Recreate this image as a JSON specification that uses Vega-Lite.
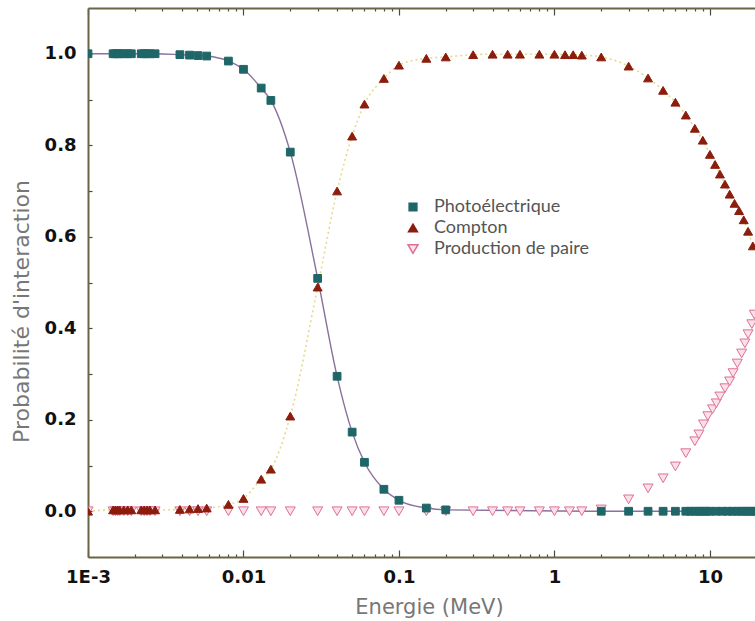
{
  "$schema": "https://vega.github.io/schema/vega-lite/v6.json",
  "width": 667,
  "height": 549,
  "autosize": "none",
  "padding": {"left": 88, "top": 8, "right": 0, "bottom": 64},
  "background": "white",
  "config": {
    "view": {"stroke": null},
    "axis": {
      "domainColor": "#6a6448",
      "domainWidth": 2,
      "tickColor": "#4a4a3a",
      "tickWidth": 1.2,
      "grid": false,
      "labelFont": "DejaVu Sans",
      "labelFontWeight": "bold",
      "labelFontSize": 18,
      "labelColor": "#111111",
      "titleFont": "DejaVu Sans",
      "titleFontWeight": "normal",
      "titleFontSize": 21,
      "titleColor": "#777777"
    },
    "legend": {
      "orient": "none", "legendX": 316, "legendY": 190,
      "labelFont": "Lato", "labelFontSize": 18, "labelColor": "#555555",
      "rowPadding": 3, "labelOffset": 12
    }
  },
  "data": {
    "values": [
      {"E": 0.001, "P": 0, "s": "Production de paire"},
      {"E": 0.00145, "P": 0, "s": "Production de paire"},
      {"E": 0.0015, "P": 0, "s": "Production de paire"},
      {"E": 0.00155, "P": 0, "s": "Production de paire"},
      {"E": 0.0016, "P": 0, "s": "Production de paire"},
      {"E": 0.0017, "P": 0, "s": "Production de paire"},
      {"E": 0.0018, "P": 0, "s": "Production de paire"},
      {"E": 0.0019, "P": 0, "s": "Production de paire"},
      {"E": 0.0022, "P": 0, "s": "Production de paire"},
      {"E": 0.0023, "P": 0, "s": "Production de paire"},
      {"E": 0.0024, "P": 0, "s": "Production de paire"},
      {"E": 0.0025, "P": 0, "s": "Production de paire"},
      {"E": 0.0027, "P": 0, "s": "Production de paire"},
      {"E": 0.0039, "P": 0, "s": "Production de paire"},
      {"E": 0.0045, "P": 0, "s": "Production de paire"},
      {"E": 0.0051, "P": 0, "s": "Production de paire"},
      {"E": 0.0058, "P": 0, "s": "Production de paire"},
      {"E": 0.008, "P": 0, "s": "Production de paire"},
      {"E": 0.01, "P": 0, "s": "Production de paire"},
      {"E": 0.013, "P": 0, "s": "Production de paire"},
      {"E": 0.015, "P": 0, "s": "Production de paire"},
      {"E": 0.02, "P": 0, "s": "Production de paire"},
      {"E": 0.03, "P": 0, "s": "Production de paire"},
      {"E": 0.04, "P": 0, "s": "Production de paire"},
      {"E": 0.05, "P": 0, "s": "Production de paire"},
      {"E": 0.06, "P": 0, "s": "Production de paire"},
      {"E": 0.08, "P": 0, "s": "Production de paire"},
      {"E": 0.1, "P": 0, "s": "Production de paire"},
      {"E": 0.15, "P": 0, "s": "Production de paire"},
      {"E": 0.2, "P": 0, "s": "Production de paire"},
      {"E": 0.3, "P": 0, "s": "Production de paire"},
      {"E": 0.4, "P": 0, "s": "Production de paire"},
      {"E": 0.5, "P": 0, "s": "Production de paire"},
      {"E": 0.6, "P": 0, "s": "Production de paire"},
      {"E": 0.8, "P": 0, "s": "Production de paire"},
      {"E": 1.0, "P": 0, "s": "Production de paire"},
      {"E": 1.25, "P": 0, "s": "Production de paire"},
      {"E": 1.5, "P": 0, "s": "Production de paire"},
      {"E": 2, "P": 0.004, "s": "Production de paire"},
      {"E": 3, "P": 0.026, "s": "Production de paire"},
      {"E": 4, "P": 0.05, "s": "Production de paire"},
      {"E": 5, "P": 0.072, "s": "Production de paire"},
      {"E": 6, "P": 0.098, "s": "Production de paire"},
      {"E": 7, "P": 0.127, "s": "Production de paire"},
      {"E": 8, "P": 0.153, "s": "Production de paire"},
      {"E": 8.5, "P": 0.168, "s": "Production de paire"},
      {"E": 9.1, "P": 0.19, "s": "Production de paire"},
      {"E": 9.7, "P": 0.208, "s": "Production de paire"},
      {"E": 10.4, "P": 0.223, "s": "Production de paire"},
      {"E": 11, "P": 0.236, "s": "Production de paire"},
      {"E": 11.6, "P": 0.251, "s": "Production de paire"},
      {"E": 12.5, "P": 0.269, "s": "Production de paire"},
      {"E": 13.4, "P": 0.284, "s": "Production de paire"},
      {"E": 14.1, "P": 0.302, "s": "Production de paire"},
      {"E": 15, "P": 0.323, "s": "Production de paire"},
      {"E": 16, "P": 0.345, "s": "Production de paire"},
      {"E": 16.8, "P": 0.367, "s": "Production de paire"},
      {"E": 17.6, "P": 0.387, "s": "Production de paire"},
      {"E": 18.6, "P": 0.409, "s": "Production de paire"},
      {"E": 19.3, "P": 0.43, "s": "Production de paire"},

      {"E": 0.001, "P": 0, "s": "Compton"},
      {"E": 0.00145, "P": 0.003, "s": "Compton"},
      {"E": 0.0015, "P": 0.003, "s": "Compton"},
      {"E": 0.00155, "P": 0.003, "s": "Compton"},
      {"E": 0.0016, "P": 0.003, "s": "Compton"},
      {"E": 0.0017, "P": 0.003, "s": "Compton"},
      {"E": 0.0018, "P": 0.003, "s": "Compton"},
      {"E": 0.0019, "P": 0.003, "s": "Compton"},
      {"E": 0.0022, "P": 0.003, "s": "Compton"},
      {"E": 0.0023, "P": 0.003, "s": "Compton"},
      {"E": 0.0024, "P": 0.003, "s": "Compton"},
      {"E": 0.0025, "P": 0.003, "s": "Compton"},
      {"E": 0.0027, "P": 0.003, "s": "Compton"},
      {"E": 0.0039, "P": 0.004, "s": "Compton"},
      {"E": 0.0045, "P": 0.005, "s": "Compton"},
      {"E": 0.0051, "P": 0.006, "s": "Compton"},
      {"E": 0.0058, "P": 0.007, "s": "Compton"},
      {"E": 0.008, "P": 0.015, "s": "Compton"},
      {"E": 0.01, "P": 0.028, "s": "Compton"},
      {"E": 0.013, "P": 0.07, "s": "Compton"},
      {"E": 0.015, "P": 0.092, "s": "Compton"},
      {"E": 0.02, "P": 0.208, "s": "Compton"},
      {"E": 0.03, "P": 0.49, "s": "Compton"},
      {"E": 0.04, "P": 0.7, "s": "Compton"},
      {"E": 0.05, "P": 0.82, "s": "Compton"},
      {"E": 0.06, "P": 0.89, "s": "Compton"},
      {"E": 0.08, "P": 0.946, "s": "Compton"},
      {"E": 0.1, "P": 0.975, "s": "Compton"},
      {"E": 0.15, "P": 0.99, "s": "Compton"},
      {"E": 0.2, "P": 0.993, "s": "Compton"},
      {"E": 0.3, "P": 0.998, "s": "Compton"},
      {"E": 0.4, "P": 0.999, "s": "Compton"},
      {"E": 0.5, "P": 0.999, "s": "Compton"},
      {"E": 0.6, "P": 0.999, "s": "Compton"},
      {"E": 0.8, "P": 0.999, "s": "Compton"},
      {"E": 1.0, "P": 0.999, "s": "Compton"},
      {"E": 1.17, "P": 0.998, "s": "Compton"},
      {"E": 1.32, "P": 0.998, "s": "Compton"},
      {"E": 1.5, "P": 0.997, "s": "Compton"},
      {"E": 2, "P": 0.993, "s": "Compton"},
      {"E": 3, "P": 0.973, "s": "Compton"},
      {"E": 4, "P": 0.947, "s": "Compton"},
      {"E": 5, "P": 0.92, "s": "Compton"},
      {"E": 6, "P": 0.894, "s": "Compton"},
      {"E": 7, "P": 0.866, "s": "Compton"},
      {"E": 8, "P": 0.837, "s": "Compton"},
      {"E": 9, "P": 0.811, "s": "Compton"},
      {"E": 10, "P": 0.78, "s": "Compton"},
      {"E": 10.8, "P": 0.758, "s": "Compton"},
      {"E": 11.6, "P": 0.737, "s": "Compton"},
      {"E": 12.5, "P": 0.715, "s": "Compton"},
      {"E": 13.4, "P": 0.693, "s": "Compton"},
      {"E": 14.4, "P": 0.673, "s": "Compton"},
      {"E": 15.4, "P": 0.657, "s": "Compton"},
      {"E": 16.5, "P": 0.637, "s": "Compton"},
      {"E": 17.6, "P": 0.612, "s": "Compton"},
      {"E": 18.9, "P": 0.58, "s": "Compton"},

      {"E": 0.001, "P": 1.0, "s": "Photoélectrique"},
      {"E": 0.00145, "P": 1.0, "s": "Photoélectrique"},
      {"E": 0.0015, "P": 1.0, "s": "Photoélectrique"},
      {"E": 0.00155, "P": 1.0, "s": "Photoélectrique"},
      {"E": 0.0016, "P": 1.0, "s": "Photoélectrique"},
      {"E": 0.0017, "P": 1.0, "s": "Photoélectrique"},
      {"E": 0.0018, "P": 1.0, "s": "Photoélectrique"},
      {"E": 0.0019, "P": 1.0, "s": "Photoélectrique"},
      {"E": 0.0022, "P": 1.0, "s": "Photoélectrique"},
      {"E": 0.0023, "P": 1.0, "s": "Photoélectrique"},
      {"E": 0.0024, "P": 1.0, "s": "Photoélectrique"},
      {"E": 0.0025, "P": 1.0, "s": "Photoélectrique"},
      {"E": 0.0027, "P": 1.0, "s": "Photoélectrique"},
      {"E": 0.0039, "P": 0.998, "s": "Photoélectrique"},
      {"E": 0.0045, "P": 0.997, "s": "Photoélectrique"},
      {"E": 0.0051, "P": 0.996, "s": "Photoélectrique"},
      {"E": 0.0058, "P": 0.995, "s": "Photoélectrique"},
      {"E": 0.008, "P": 0.984, "s": "Photoélectrique"},
      {"E": 0.01, "P": 0.966, "s": "Photoélectrique"},
      {"E": 0.013, "P": 0.925, "s": "Photoélectrique"},
      {"E": 0.015, "P": 0.898, "s": "Photoélectrique"},
      {"E": 0.02, "P": 0.785, "s": "Photoélectrique"},
      {"E": 0.03, "P": 0.509, "s": "Photoélectrique"},
      {"E": 0.04, "P": 0.295, "s": "Photoélectrique"},
      {"E": 0.05, "P": 0.173, "s": "Photoélectrique"},
      {"E": 0.06, "P": 0.107, "s": "Photoélectrique"},
      {"E": 0.08, "P": 0.048, "s": "Photoélectrique"},
      {"E": 0.1, "P": 0.024, "s": "Photoélectrique"},
      {"E": 0.15, "P": 0.007, "s": "Photoélectrique"},
      {"E": 0.2, "P": 0.003, "s": "Photoélectrique"},
      {"E": 2, "P": 0.0, "s": "Photoélectrique"},
      {"E": 3, "P": 0.0, "s": "Photoélectrique"},
      {"E": 4, "P": 0.0, "s": "Photoélectrique"},
      {"E": 5, "P": 0.0, "s": "Photoélectrique"},
      {"E": 6, "P": 0.0, "s": "Photoélectrique"},
      {"E": 7, "P": 0.0, "s": "Photoélectrique"},
      {"E": 7.5, "P": 0.0, "s": "Photoélectrique"},
      {"E": 8, "P": 0.0, "s": "Photoélectrique"},
      {"E": 8.5, "P": 0.0, "s": "Photoélectrique"},
      {"E": 9, "P": 0.0, "s": "Photoélectrique"},
      {"E": 9.5, "P": 0.0, "s": "Photoélectrique"},
      {"E": 10, "P": 0.0, "s": "Photoélectrique"},
      {"E": 11, "P": 0.0, "s": "Photoélectrique"},
      {"E": 12, "P": 0.0, "s": "Photoélectrique"},
      {"E": 13, "P": 0.0, "s": "Photoélectrique"},
      {"E": 14, "P": 0.0, "s": "Photoélectrique"},
      {"E": 15, "P": 0.0, "s": "Photoélectrique"},
      {"E": 16, "P": 0.0, "s": "Photoélectrique"},
      {"E": 17, "P": 0.0, "s": "Photoélectrique"},
      {"E": 18, "P": 0.0, "s": "Photoélectrique"},
      {"E": 19, "P": 0.0, "s": "Photoélectrique"},
      {"E": 20, "P": 0.0, "s": "Photoélectrique"}
    ]
  },
  "layer": [
    {
      "transform": [{"filter": "datum.s === 'Photoélectrique'"}],
      "mark": {"type": "line", "color": "#8b6f9c", "strokeWidth": 1.4, "interpolate": "monotone", "clip": true},
      "encoding": {
        "x": {
          "field": "E", "type": "quantitative",
          "scale": {"type": "log", "domain": [0.001, 19.5], "nice": false},
          "title": "Energie (MeV)",
          "axis": {
            "orient": "bottom",
            "values": [0.001, 0.002, 0.003, 0.004, 0.005, 0.006, 0.007, 0.008, 0.009, 0.01, 0.02, 0.03, 0.04, 0.05, 0.06, 0.07, 0.08, 0.09, 0.1, 0.2, 0.3, 0.4, 0.5, 0.6, 0.7, 0.8, 0.9, 1, 2, 3, 4, 5, 6, 7, 8, 9, 10],
            "labelExpr": "datum.value == 0.001 ? '1E-3' : (indexof([0.01, 0.1, 1, 10], datum.value) >= 0 ? format(datum.value, '~g') : '')",
            "tickSize": {"condition": {"test": "indexof([0.001, 0.01, 0.1, 1, 10], datum.value) >= 0", "value": -7}, "value": -3},
            "labelPadding": 18,
            "labelFlush": false,
            "labelOverlap": false,
            "titlePadding": 6,
            "titleX": 341
          }
        },
        "y": {
          "field": "P", "type": "quantitative",
          "scale": {"domain": [-0.1, 1.1], "nice": false, "zero": false},
          "title": "Probabilité d'interaction",
          "axis": {
            "orient": "left",
            "values": [0, 0.1, 0.2, 0.3, 0.4, 0.5, 0.6, 0.7, 0.8, 0.9, 1.0],
            "labelExpr": "round(datum.value * 10) % 2 == 0 ? format(datum.value, '.1f') : ''",
            "tickSize": -4,
            "labelPadding": 16,
            "titlePadding": 11,
            "titleY": 303,
            "titleFontSize": 22
          }
        }
      }
    },
    {
      "transform": [{"filter": "datum.s === 'Compton'"}],
      "mark": {"type": "line", "color": "#e6d98a", "strokeWidth": 1.6, "strokeDash": [2, 3], "interpolate": "monotone", "clip": true},
      "encoding": {
        "x": {
          "field": "E", "type": "quantitative",
          "axis": {
            "orient": "top",
            "values": [0.001, 0.002, 0.003, 0.004, 0.005, 0.006, 0.007, 0.008, 0.009, 0.01, 0.02, 0.03, 0.04, 0.05, 0.06, 0.07, 0.08, 0.09, 0.1, 0.2, 0.3, 0.4, 0.5, 0.6, 0.7, 0.8, 0.9, 1, 2, 3, 4, 5, 6, 7, 8, 9, 10],
            "labels": false,
            "title": null,
            "tickSize": {"condition": {"test": "indexof([0.001, 0.01, 0.1, 1, 10], datum.value) >= 0", "value": -7}, "value": -3}
          }
        },
        "y": {"field": "P", "type": "quantitative"}
      }
    },
    {
      "mark": {"type": "point", "filled": true, "strokeWidth": 1, "opacity": 1, "clip": true},
      "encoding": {
        "x": {"field": "E", "type": "quantitative", "axis": null},
        "y": {"field": "P", "type": "quantitative"},
        "shape": {
          "field": "s", "type": "nominal",
          "scale": {"domain": ["Photoélectrique", "Compton", "Production de paire"], "range": ["square", "triangle-up", "triangle-down"]},
          "legend": {"title": null}
        },
        "size": {
          "field": "s", "type": "nominal",
          "scale": {"domain": ["Photoélectrique", "Compton", "Production de paire"], "range": [60, 100, 80]},
          "legend": {"title": null}
        },
        "fill": {
          "field": "s", "type": "nominal",
          "scale": {"domain": ["Photoélectrique", "Compton", "Production de paire"], "range": ["#1f6668", "#8c1c0c", "#fbe0ea"]},
          "legend": {"title": null}
        },
        "stroke": {
          "field": "s", "type": "nominal",
          "scale": {"domain": ["Photoélectrique", "Compton", "Production de paire"], "range": ["#1f6668", "#8c1c0c", "#dd7096"]},
          "legend": {"title": null}
        }
      }
    }
  ]
}
